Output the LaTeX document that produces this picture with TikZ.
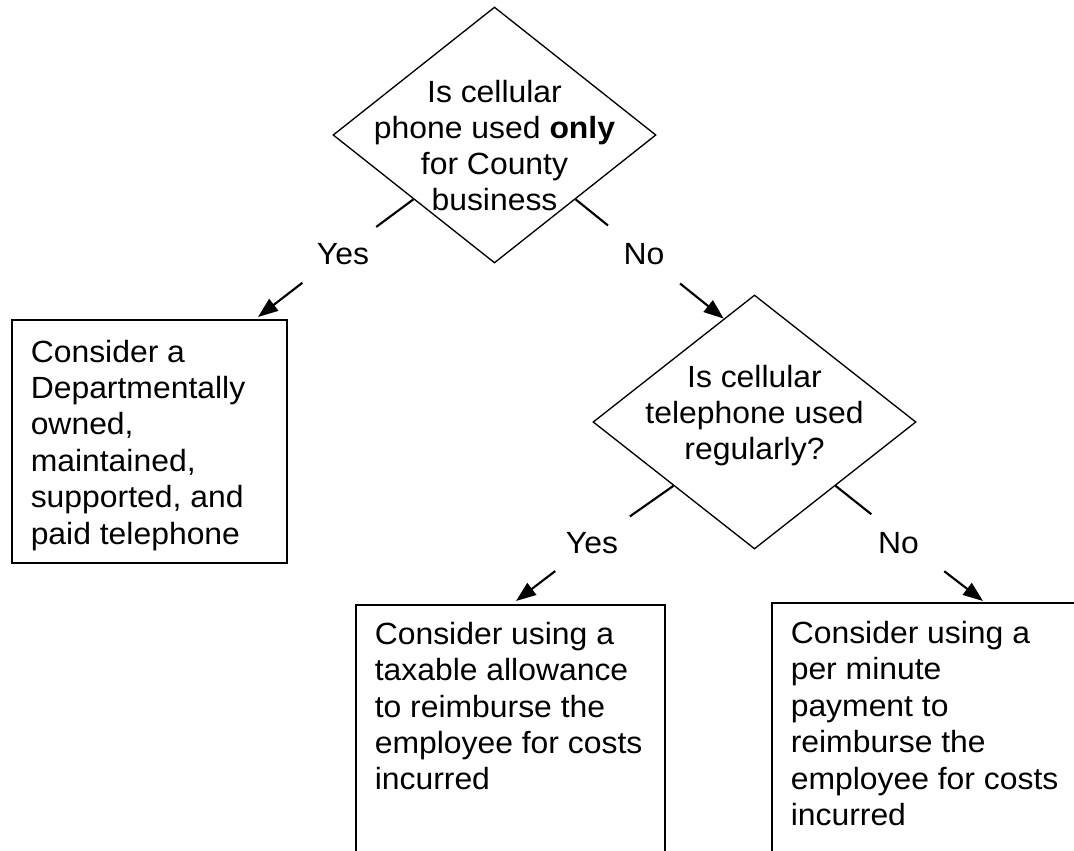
\documentclass[tikz,border=0pt]{standalone}
\usepackage{fontspec}
\setmainfont{Liberation Sans}[FakeStretch=1.04]
\usetikzlibrary{shapes.geometric,arrows.meta,calc}
\begin{document}
\begin{tikzpicture}[x=0.75pt,y=-0.75pt,
  decision/.style={draw, shape=diamond, line width=1pt, minimum width=242.25pt, minimum height=192pt, inner sep=0pt},
  dtext/.style={align=center, inner sep=0pt, anchor=north, font=\fontsize{23}{27}\selectfont},
  outcome/.style={draw, rectangle, line width=1.5pt, inner sep=0pt},
  btext/.style={align=left, inner sep=0pt, anchor=north west, font=\fontsize{23}{27.3}\selectfont},
  gapc/.style={circle, inner sep=0pt, minimum size=69pt, font=\fontsize{23}{27}\selectfont},
  conn/.style={line width=1.6pt},
  arr/.style={line width=1.6pt, -{Triangle[length=15pt,width=11pt]}}
]
\useasboundingbox (0,0) rectangle (1074,850);
\clip (0,0) rectangle (1074,850);

% decisions
\node[decision] (d1) at (494.5,135) {};
\node[decision, minimum height=190.5pt] (d2) at (754.5,422) {};
\node[dtext] (d1t) at (494.5,80) {Is cellular\\phone used \textbf{only}\\for County\\business};
\node[dtext] (d2t) at (754.5,365) {Is cellular\\telephone used\\regularly?};

% outcomes
\node[outcome, minimum width=206.25pt, minimum height=182.25pt] (b1) at (149.5,441.5) {};
\node[outcome, minimum width=231.75pt, minimum height=206.25pt] (b2) at (510.5,742.5) {};
\node[outcome, minimum width=231.75pt, minimum height=206.25pt] (b3) at (926.5,740.5) {};
\node[btext] (b1t) at (30.5,339.7) {Consider a\\Departmentally\\owned,\\maintained,\\supported, and\\paid telephone};
\node[btext] (b2t) at (374.5,621.7) {Consider using a\\taxable allowance\\to reimburse the\\employee for costs\\incurred};
\node[btext] (b3t) at (790.5,621) {Consider using a\\per minute\\payment to\\reimburse the\\employee for costs\\incurred};

% connector labels
\node[gapc] (l1) at (339,254.5) {\hspace*{6pt}Yes};
\node[gapc] (l2) at (644,254.5) {No};
\node[gapc] (l3) at (592,543) {Yes};
\node[gapc] (l4) at (907.5,543) {\hspace*{-13.5pt}No};

% arrow targets
\coordinate (t1) at (258,317);
\coordinate (t2) at ($(d2.north)!0.19!(d2.west)$);
\coordinate (t3) at (516,601);
\coordinate (t4) at (983,601);

% connectors
\draw[conn] (d1.south west) -- (l1);
\draw[arr] (l1) -- (t1);
\draw[conn] (d1.south east) -- (l2);
\draw[arr] (l2) -- (t2);
\draw[conn] (d2.south west) -- (l3);
\draw[arr] (l3) -- (t3);
\draw[conn] (d2.south east) -- (l4);
\draw[arr] (l4) -- (t4);
\end{tikzpicture}
\end{document}
